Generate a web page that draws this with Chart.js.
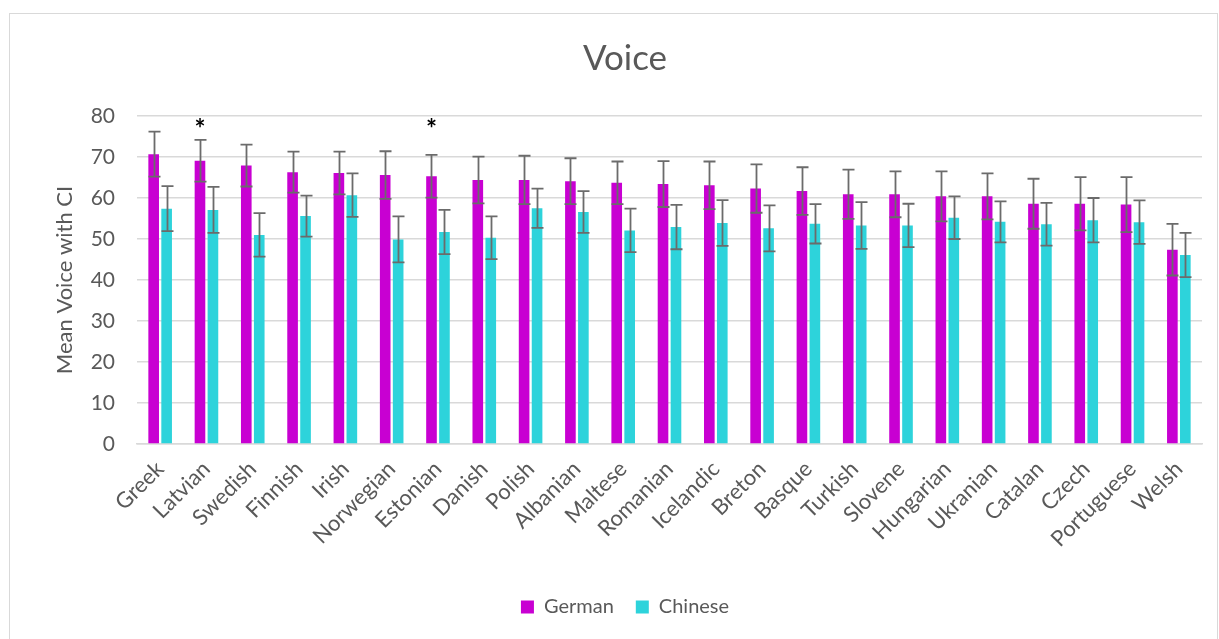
<!DOCTYPE html>
<html>
<head>
<meta charset="utf-8">
<title>Voice</title>
<script src="https://cdn.jsdelivr.net/npm/chart.js@4/dist/chart.umd.min.js"></script>
<style>
  html, body { margin: 0; padding: 0; background: #fff; }
  #wrap { position: relative; width: 1219px; height: 639px; }
  #frame { position: absolute; left: 9px; top: 13px; width: 1207px; height: 640px; border: 1px solid #d9d9d9; pointer-events: none; }
</style>
</head>
<body>
<div id="wrap">
  <canvas id="chart" width="1219" height="639"></canvas>
  <div id="frame"></div>
</div>
<script>
// languages, in the order shown
const languages = ['Greek', 'Latvian', 'Swedish', 'Finnish', 'Irish', 'Norwegian', 'Estonian',
  'Danish', 'Polish', 'Albanian', 'Maltese', 'Romanian', 'Icelandic', 'Breton', 'Basque',
  'Turkish', 'Slovene', 'Hungarian', 'Ukranian', 'Catalan', 'Czech', 'Portuguese', 'Welsh'];

// mean voice ratings
const germanMean = [70.7, 69.1, 67.9, 66.3, 66.1, 65.6, 65.3, 64.4, 64.4, 64.1, 63.7, 63.4,
  63.1, 62.3, 61.7, 60.9, 60.9, 60.4, 60.4, 58.6, 58.6, 58.4, 47.4];
const chineseMean = [57.4, 57.1, 51.0, 55.6, 60.7, 49.9, 51.7, 50.3, 57.5, 56.6, 52.1, 52.9,
  53.9, 52.6, 53.7, 53.3, 53.3, 55.2, 54.2, 53.6, 54.6, 54.1, 46.1];

// confidence interval half widths
const germanCI = [5.5, 5.1, 5.1, 5.0, 5.2, 5.8, 5.2, 5.7, 5.9, 5.6, 5.2, 5.6,
  5.8, 5.9, 5.8, 6.0, 5.6, 6.1, 5.6, 6.1, 6.5, 6.7, 6.3];
const chineseCI = [5.5, 5.6, 5.3, 5.0, 5.3, 5.6, 5.4, 5.2, 4.8, 5.1, 5.3, 5.4,
  5.6, 5.6, 4.8, 5.7, 5.3, 5.2, 5.0, 5.2, 5.4, 5.3, 5.4];

// significance markers above the German bars
const sigMarks = ['', '*', '', '', '', '', '*', '', '', '', '', '',
  '', '', '', '', '', '', '', '', '', '', ''];
const sigLevel = 78;

const yTicks = [0, 10, 20, 30, 40, 50, 60, 70, 80];

const FONT = 'Lato, "Open Sans", sans-serif';
const GREY = '#595959';

// draws CI whiskers and the stars
const errorBars = {
  id: 'errorBars',
  afterDatasetsDraw(chart) {
    const ctx = chart.ctx;
    const y = chart.scales.y;
    const cis = [germanCI, chineseCI];
    ctx.save();
    ctx.strokeStyle = '#6b6b6b';
    ctx.lineWidth = 1.8;
    chart.data.datasets.forEach((ds, di) => {
      const meta = chart.getDatasetMeta(di);
      meta.data.forEach((bar, i) => {
        const v = ds.data[i];
        const top = y.getPixelForValue(v + cis[di][i]);
        const bot = y.getPixelForValue(v - cis[di][i]);
        const x = Math.round(bar.x) + 0.5;
        const cap = 6;
        ctx.beginPath();
        ctx.moveTo(x, top); ctx.lineTo(x, bot);
        ctx.moveTo(x - cap, top); ctx.lineTo(x + cap, top);
        ctx.moveTo(x - cap, bot); ctx.lineTo(x + cap, bot);
        ctx.stroke();
      });
    });
    const gMeta = chart.getDatasetMeta(0);
    ctx.fillStyle = '#000';
    ctx.font = 'bold 26px ' + FONT;
    ctx.textAlign = 'center';
    ctx.textBaseline = 'middle';
    sigMarks.forEach((m, i) => {
      if (!m) return;
      ctx.fillText(m, gMeta.data[i].x, y.getPixelForValue(sigLevel) + 5);
    });
    ctx.restore();
  }
};

new Chart(document.getElementById('chart'), {
  type: 'bar',
  data: {
    labels: languages,
    datasets: [
      { label: 'German', data: germanMean, backgroundColor: '#c800d2' },
      { label: 'Chinese', data: chineseMean, backgroundColor: '#2dd3db' }
    ]
  },
  options: {
    responsive: false,
    animation: false,
    datasets: { bar: { categoryPercentage: 0.56, barPercentage: 0.82 } },
    layout: { padding: { left: 48, right: 17, top: 0, bottom: 12 } },
    plugins: {
      title: {
        display: true, text: 'Voice', color: GREY,
        font: { family: FONT, size: 35, weight: 'normal' },
        padding: { top: 38, bottom: 36 }
      },
      legend: {
        position: 'bottom',
        labels: {
          color: GREY, font: { family: FONT, size: 20 },
          boxWidth: 13, boxHeight: 13, padding: 22
        }
      },
      tooltip: { enabled: false }
    },
    scales: {
      x: {
        grid: { display: false },
        border: { color: '#d9d9d9', width: 1.5 },
        ticks: { color: GREY, font: { family: FONT, size: 22 }, minRotation: 45, maxRotation: 45, padding: 4 },
        afterFit(scale) { scale.height = 131; }
      },
      y: {
        min: 0, max: 80,
        afterBuildTicks(scale) { scale.ticks = yTicks.map(v => ({ value: v })); },
        grid: { color: '#d9d9d9', lineWidth: 1.5, drawTicks: false },
        border: { display: false },
        ticks: { color: GREY, font: { family: FONT, size: 21 }, padding: 22 },
        title: { display: true, text: 'Mean Voice with CI', color: GREY, font: { family: FONT, size: 22 } },
        afterFit(scale) { scale.width = 89; }
      }
    }
  },
  plugins: [errorBars]
});
</script>
</body>
</html>
